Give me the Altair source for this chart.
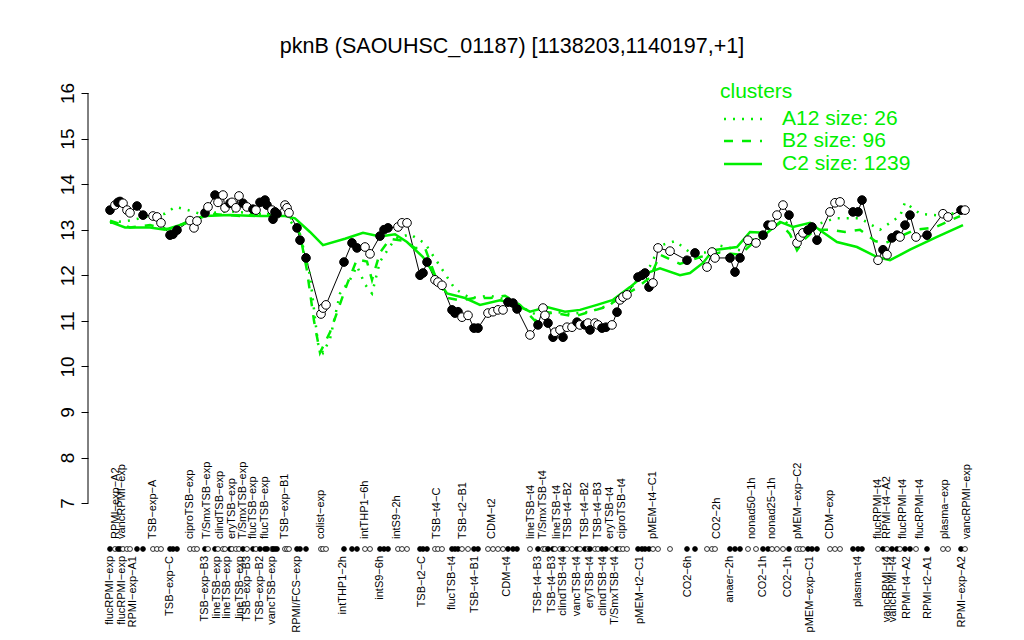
import altair as alt
import pandas as pd

# ---- sample positions along the condition axis, expression values, filled flag ----
pos = [110, 115, 118, 120, 123, 127, 130, 137, 143, 153, 157, 161, 170, 173, 177,
       190, 194, 197, 205, 208, 215, 218, 223, 225, 230, 232, 236, 239, 243, 247,
       253, 256, 260, 265, 267, 272, 273, 275, 277, 285, 287, 289, 297, 300, 306,
       321, 323, 326, 344, 352, 357, 365, 370, 380, 384, 388, 398, 402, 407,
       420, 423, 427, 435, 438, 442, 452, 455, 458, 462, 468, 474, 478,
       488, 493, 498, 503, 508, 513, 517, 530, 538, 543, 545, 548, 553, 555, 560,
       563, 567, 572, 577, 580, 585, 588, 590, 595, 598, 602, 606, 612, 617, 620,
       623, 627, 638, 642, 645, 649, 653, 658, 670, 687, 695, 707, 712, 715,
       730, 735, 740, 748, 756, 763, 768, 772, 777, 783, 789, 797, 800, 803, 808,
       812, 817, 830, 835, 840, 853, 858, 862, 878, 883, 887, 892, 897, 900, 905,
       910, 916, 927, 943, 948, 961, 965]
val = [13.43, 13.54, 13.60, 13.62, 13.58, 13.43, 13.37, 13.52, 13.32, 13.30, 13.28, 13.15, 12.88, 12.90, 12.99,
       13.20, 13.04, 13.19, 13.37, 13.50, 13.76, 13.60, 13.76, 13.48, 13.58, 13.60, 13.48, 13.74, 13.58, 13.50,
       13.45, 13.43, 13.60, 13.65, 13.54, 13.43, 13.23, 13.39, 13.35, 13.54, 13.48, 13.37, 13.04, 12.77, 12.38,
       11.15, 11.28, 11.35, 12.29, 12.71, 12.60, 12.62, 12.47, 12.86, 13.00, 13.04, 13.06, 13.15, 13.15,
       12.00, 12.05, 12.29, 11.90, 11.85, 11.78, 11.24, 11.17, 11.20, 11.08, 11.12, 10.84, 10.84,
       11.17, 11.20, 11.24, 11.24, 11.41, 11.39, 11.26, 10.69, 10.91, 11.28, 11.12, 10.95, 10.64, 10.75, 10.80,
       10.64, 10.86, 10.86, 10.97, 10.91, 10.91, 10.95, 10.80, 10.95, 10.91, 10.84, 10.86, 10.91, 11.19, 11.46,
       11.52, 11.57, 11.96, 12.00, 12.05, 11.74, 11.83, 12.60, 12.53, 12.33, 12.49, 12.18, 12.51, 12.38,
       12.38, 12.07, 12.38, 12.77, 12.71, 12.88, 13.10, 13.10, 13.32, 13.54, 13.32, 12.71, 12.84, 12.93, 12.99,
       13.06, 12.77, 13.39, 13.59, 13.61, 13.39, 13.39, 13.65, 12.33, 12.56, 12.45, 12.82, 12.88, 12.84, 13.10,
       13.32, 12.84, 12.88, 13.35, 13.28, 13.43, 13.43]
filled = [1, 0, 1, 1, 0, 0, 0, 1, 1, 0, 0, 0, 1, 1, 1,
          0, 0, 0, 1, 0, 1, 0, 0, 0, 1, 0, 0, 0, 1, 0,
          1, 0, 1, 1, 1, 0, 1, 1, 1, 0, 0, 0, 1, 1, 1,
          0, 0, 0, 1, 1, 1, 0, 0, 1, 1, 1, 0, 0, 0,
          1, 1, 1, 0, 0, 0, 1, 1, 1, 0, 0, 1, 1,
          0, 0, 0, 0, 1, 1, 1, 0, 1, 0, 0, 1, 1, 0, 0,
          1, 0, 0, 1, 0, 1, 0, 1, 0, 0, 1, 1, 0, 1, 0,
          0, 0, 1, 1, 1, 1, 0, 0, 0, 1, 1, 0, 0, 0,
          1, 1, 1, 0, 0, 1, 1, 0, 0, 0, 1, 0, 0, 0, 1,
          1, 1, 0, 0, 0, 1, 1, 1, 0, 1, 0, 1, 1, 0, 1,
          1, 0, 1, 0, 0, 1, 0]

# ---- cluster profiles ----
c2_pos = [110, 125, 150, 165, 190, 205, 230, 260, 285, 295, 310, 323, 345, 363, 380, 395, 407, 423,
          447, 465, 480, 500, 513, 530, 547, 565, 580, 597, 613, 630, 647, 660, 680, 690, 703, 713,
          737, 750, 767, 780, 793, 810, 820, 837, 857, 877, 890, 910, 937, 963]
c2_val = [13.17, 13.05, 13.05, 13.00, 13.17, 13.30, 13.32, 13.30, 13.30, 13.25, 12.95, 12.66, 12.80, 12.93,
          12.85, 12.90, 12.73, 12.40, 11.60, 11.50, 11.35, 11.45, 11.39, 11.20, 11.30, 11.20, 11.24, 11.35,
          11.46, 11.74, 12.05, 12.15, 12.00, 12.05, 12.27, 12.55, 12.62, 12.95, 12.93, 13.17, 13.06, 13.15,
          12.99, 12.73, 12.62, 12.40, 12.33, 12.56, 12.84, 13.10]
b2_pos = [110, 130, 150, 170, 190, 210, 240, 270, 290, 300, 307, 314, 320, 330, 347, 357, 367, 372, 380,
          390, 405, 415, 425, 435, 448, 460, 475, 490, 505, 520, 535, 545, 560, 575, 590, 605, 620, 635,
          650, 660, 680, 700, 720, 740, 755, 770, 780, 790, 797, 805, 815, 830, 845, 860, 875, 885, 900,
          915, 935, 960]
b2_val = [13.20, 13.05, 13.10, 13.00, 13.20, 13.35, 13.30, 13.35, 13.30, 12.90, 12.10, 11.00, 10.30, 10.75,
          11.80, 12.35, 12.30, 11.90, 12.50, 12.80, 12.75, 12.60, 12.60, 12.00, 11.50, 11.45, 11.50, 11.50,
          11.55, 11.35, 11.00, 11.20, 11.15, 11.10, 11.20, 11.30, 11.50, 11.70, 11.95, 12.45, 12.25, 12.40,
          12.50, 12.45, 12.75, 13.00, 13.15, 12.90, 12.55, 12.80, 13.00, 13.00, 12.95, 13.00, 12.75, 12.70,
          12.85, 13.00, 13.05, 13.30]
a12_pos = [110, 130, 150, 165, 175, 185, 200, 230, 260, 285, 300, 310, 318, 323, 330, 340, 350, 357, 365,
           372, 380, 395, 410, 425, 440, 455, 470, 490, 510, 530, 540, 555, 570, 590, 610, 630, 650, 660,
           675, 690, 705, 720, 740, 760, 780, 800, 815, 835, 860, 880, 900, 905, 920, 945, 965]
a12_val = [13.15, 13.20, 13.30, 13.35, 13.50, 13.45, 13.35, 13.40, 13.35, 13.35, 12.90, 12.00, 10.50, 10.30,
           10.60, 11.60, 11.90, 12.20, 11.80, 11.60, 12.30, 12.80, 12.90, 12.70, 12.20, 11.70, 11.50, 11.55,
           11.45, 11.20, 11.10, 11.20, 11.15, 11.20, 11.35, 11.70, 12.20, 12.65, 12.75, 12.50, 12.50, 12.65,
           12.55, 12.90, 13.30, 12.85, 13.10, 13.25, 13.25, 13.00, 13.30, 13.60, 13.35, 13.30, 13.45]

# ---- condition labels ----
top_labels = ["RPMI\u2212exp\u2212A2", "vancRPMI\u2212exp", "TSB\u2212exp\u2212A", "ciproTSB\u2212exp",
              "T/SmxTSB\u2212exp", "clindTSB\u2212exp", "eryTSB\u2212exp", "T/SmxTSB\u2212exp",
              "flucTSB\u2212exp", "flucTSB\u2212exp", "TSB\u2212exp\u2212B1", "colist\u2212exp",
              "intTHP1\u22126h", "intS9\u22122h", "TSB\u2212t4\u2212C", "TSB\u2212t2\u2212B1", "CDM\u2212t2",
              "lineTSB\u2212t4", "T/SmxTSB\u2212t4", "lineTSB\u2212t4", "TSB\u2212t4\u2212B2",
              "TSB\u2212t4\u2212B2", "TSB\u2212t4\u2212B3", "eryTSB\u2212t4", "ciproTSB\u2212t4",
              "pMEM\u2212t4\u2212C1", "CO2\u22122h", "nonad50\u22121h", "nonad25\u22121h",
              "pMEM\u2212exp\u2212C2", "CDM\u2212exp", "flucRPMI\u2212t4", "RPMI\u2212t4\u2212A2",
              "flucRPMI\u2212t4", "flucRPMI\u2212t4", "plasma\u2212exp", "vancRPMI\u2212exp"]
top_label_pos = [116, 122, 153, 190, 207, 220, 232, 243, 253, 265, 285, 321,
                 365, 397, 437, 463, 492, 531, 543, 557, 568, 585, 598, 610, 622,
                 653, 717, 752, 772, 798, 830, 878, 887, 903, 920, 945, 967]
bot_labels = ["flucRPMI\u2212exp", "flucRPMI\u2212exp", "RPMI\u2212exp\u2212A1", "TSB\u2212exp\u2212C",
              "TSB\u2212exp\u2212B3", "lineTSB\u2212exp", "lineTSB\u2212exp", "lineTSB\u2212exp",
              "TSB\u2212exp\u2212B3", "TSB\u2212exp\u2212B2", "vancTSB\u2212exp", "RPMI/FCS\u2212exp",
              "intTHP1\u22122h", "intS9\u22126h", "TSB\u2212t2\u2212C", "flucTSB\u2212t4", "TSB\u2212t4\u2212B1",
              "CDM\u2212t4", "TSB\u2212t4\u2212B3", "TSB\u2212t4\u2212B3", "clindTSB\u2212t4",
              "vancTSB\u2212t4", "eryTSB\u2212t4", "clindTSB\u2212t4", "T/SmxTSB\u2212t4",
              "pMEM\u2212t2\u2212C1", "CO2\u22126h", "anaer\u22122h", "CO2\u22121h", "CO2\u22121h",
              "pMEM\u2212exp\u2212C1", "plasma\u2212t4", "vancRPMI\u2212t4", "vancRPMI\u2212t4",
              "RPMI\u2212t4\u2212A2", "RPMI\u2212t2\u2212A1", "RPMI\u2212exp\u2212A2"]
bot_label_pos = [110, 122, 133, 170, 205, 217, 227, 240, 247, 260, 272, 297,
                 343, 380, 422, 452, 475, 507, 538, 552, 563, 577, 590, 603, 615,
                 640, 688, 730, 763, 788, 810, 858, 887, 893, 907, 928, 962]

title_text = "pknB (SAOUHSC_01187) [1138203,1140197,+1]"
legend_title = "clusters"
legend_labels = ["A12 size: 26", "B2 size: 96", "C2 size: 1239"]

GREEN = "#00ee00"
FONT = "Liberation Sans"

pts = pd.DataFrame({"pos": pos, "val": val, "filled": filled})
xs = alt.Scale(domain=[88, 988], nice=False, zero=False)
ys = alt.Scale(domain=[4.5, 16], nice=False, zero=False)
X = alt.X("pos:Q", scale=xs, axis=None)

yaxis = alt.Axis(values=list(range(7, 17)), domain=False, grid=False, ticks=True,
                 tickSize=7, tickColor="black", tickWidth=1, labelAngle=270,
                 labelFontSize=19, labelFont=FONT, labelColor="black",
                 labelPadding=4, title=None)
Y = alt.Y("val:Q", scale=ys, axis=yaxis, title=None)


def prof(p, v, dash, w):
    df = pd.DataFrame({"pos": p, "val": v})
    kw = {"color": GREEN, "strokeWidth": w}
    if dash:
        kw["strokeDash"] = dash
    return alt.Chart(df).mark_line(**kw).encode(x=X, y=Y, order="pos:Q")


c2 = prof(c2_pos, c2_val, None, 2.5)
b2 = prof(b2_pos, b2_val, [9, 9], 2.5)
a12 = prof(a12_pos, a12_val, [2, 7], 2.5)

blk = alt.Chart(pts).mark_line(color="black", strokeWidth=1).encode(x=X, y=Y, order="pos:Q")

fillc = alt.condition("datum.filled == 1", alt.value("black"), alt.value("white"))
circ = alt.Chart(pts).mark_point(shape="circle", filled=True, size=75, stroke="black",
                                 strokeWidth=1, opacity=1).encode(x=X, y=Y, fill=fillc)

dots = alt.Chart(pts).mark_point(shape="circle", filled=True, size=24, stroke="black",
                                 strokeWidth=0.8, opacity=1).encode(
    x=X, y=alt.value(456), fill=fillc)

axis_df = pd.DataFrame({"val": [7], "val2": [16]})
axis_line = alt.Chart(axis_df).mark_rule(color="black", strokeWidth=1).encode(
    x=alt.value(0), y=Y, y2="val2:Q")

tl = alt.Chart(pd.DataFrame({"pos": top_label_pos, "t": top_labels})).mark_text(
    angle=270, align="left", baseline="middle", fontSize=11, font=FONT, color="black").encode(
    x=X, y=alt.value(446), text="t:N")
bl = alt.Chart(pd.DataFrame({"pos": bot_label_pos, "t": bot_labels})).mark_text(
    angle=270, align="right", baseline="middle", fontSize=11, font=FONT, color="black").encode(
    x=X, y=alt.value(463), text="t:N")

one = pd.DataFrame({"a": [0]})
title = alt.Chart(one).mark_text(fontSize=21.5, font=FONT, color="black", align="center",
                                 baseline="middle").encode(
    x=alt.value(424), y=alt.value(-46), text=alt.value(title_text))

leg = [alt.Chart(one).mark_text(fontSize=21, font=FONT, color=GREEN, align="left",
                                baseline="middle").encode(
    x=alt.value(632), y=alt.value(-1), text=alt.value(legend_title))]
leg_y = [26, 48, 71]
dashes = [[2, 7], [9, 9], None]
for lab, yy, d in zip(legend_labels, leg_y, dashes):
    kw = {"color": GREEN, "strokeWidth": 2.5}
    if d:
        kw["strokeDash"] = d
    leg.append(alt.Chart(one).mark_rule(**kw).encode(
        x=alt.value(636), x2=alt.value(674), y=alt.value(yy)))
    leg.append(alt.Chart(one).mark_text(fontSize=21, font=FONT, color=GREEN, align="left",
                                        baseline="middle").encode(
        x=alt.value(694), y=alt.value(yy), text=alt.value(lab)))

chart = alt.layer(blk, c2, b2, a12, circ, dots, axis_line, tl, bl, title, *leg).properties(
    width=900, height=524,
    autosize=alt.AutoSizeParams(type="none"),
    padding={"left": 80, "top": 85, "right": 20, "bottom": 20},
).configure_view(stroke=None)

chart.save("out.html", embed_options={"renderer": "svg", "actions": False})
